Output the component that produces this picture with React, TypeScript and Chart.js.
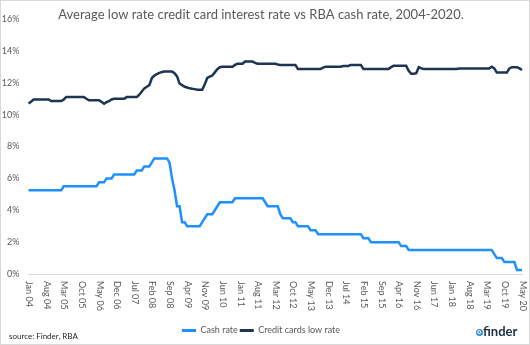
import React, { useEffect, useRef } from "react";
import { Chart, registerables } from "chart.js";

Chart.register(...registerables);

const FONT = 'Lato, "Open Sans", sans-serif';
const TITLE = "Average low rate credit card interest rate vs RBA cash rate, 2004-2020.";
const SOURCE = "source: Finder, RBA";
const LOGO = "finder";

const MONTHS = ["Jan", "Feb", "Mar", "Apr", "May", "Jun", "Jul", "Aug", "Sep", "Oct", "Nov", "Dec"];
const categories: string[] = [];
for (let y = 2004; y <= 2020; y++) {
  for (let m = 0; m < 12; m++) {
    if (y === 2020 && m > 4) break;
    categories.push(`${MONTHS[m]} ${String(y).slice(2)}`);
  }
}
const TICK_EVERY = 7;
const yTicks = [0, 2, 4, 6, 8, 10, 12, 14, 16];

const cashRate = [
  5.25, 5.25, 5.25, 5.25, 5.25, 5.25, 5.25, 5.25, 5.25, 5.25, 5.25, 5.25,
  5.25, 5.25, 5.5, 5.5, 5.5, 5.5, 5.5, 5.5, 5.5, 5.5, 5.5, 5.5,
  5.5, 5.5, 5.5, 5.5, 5.75, 5.75, 5.75, 6.0, 6.0, 6.0, 6.25, 6.25,
  6.25, 6.25, 6.25, 6.25, 6.25, 6.25, 6.25, 6.5, 6.5, 6.5, 6.75, 6.75,
  6.75, 7.0, 7.25, 7.25, 7.25, 7.25, 7.25, 7.25, 7.0, 6.0, 5.25, 4.25,
  4.25, 3.25, 3.25, 3.0, 3.0, 3.0, 3.0, 3.0, 3.0, 3.25, 3.5, 3.75,
  3.75, 3.75, 4.0, 4.25, 4.5, 4.5, 4.5, 4.5, 4.5, 4.5, 4.75, 4.75,
  4.75, 4.75, 4.75, 4.75, 4.75, 4.75, 4.75, 4.75, 4.75, 4.75, 4.5, 4.25,
  4.25, 4.25, 4.25, 4.25, 3.75, 3.5, 3.5, 3.5, 3.5, 3.25, 3.25, 3.0,
  3.0, 3.0, 3.0, 3.0, 2.75, 2.75, 2.75, 2.5, 2.5, 2.5, 2.5, 2.5,
  2.5, 2.5, 2.5, 2.5, 2.5, 2.5, 2.5, 2.5, 2.5, 2.5, 2.5, 2.5,
  2.5, 2.25, 2.25, 2.25, 2.0, 2.0, 2.0, 2.0, 2.0, 2.0, 2.0, 2.0,
  2.0, 2.0, 2.0, 2.0, 1.75, 1.75, 1.75, 1.5, 1.5, 1.5, 1.5, 1.5,
  1.5, 1.5, 1.5, 1.5, 1.5, 1.5, 1.5, 1.5, 1.5, 1.5, 1.5, 1.5,
  1.5, 1.5, 1.5, 1.5, 1.5, 1.5, 1.5, 1.5, 1.5, 1.5, 1.5, 1.5,
  1.5, 1.5, 1.5, 1.5, 1.5, 1.25, 1.0, 1.0, 1.0, 0.75, 0.75, 0.75,
  0.75, 0.75, 0.25, 0.25, 0.25,
];

const creditLowRate = [
  10.7, 10.8, 10.95, 10.95, 10.95, 10.95, 10.95, 10.95, 10.95, 10.85, 10.85, 10.85,
  10.85, 10.85, 10.95, 11.1, 11.1, 11.1, 11.1, 11.1, 11.1, 11.1, 11.1, 11.0,
  10.9, 10.9, 10.9, 10.9, 10.9, 10.8, 10.68, 10.78, 10.85, 10.95, 11.0, 11.0,
  11.0, 11.0, 11.0, 11.1, 11.1, 11.1, 11.1, 11.1, 11.25, 11.45, 11.65, 11.75,
  11.85, 12.3, 12.45, 12.55, 12.62, 12.67, 12.7, 12.7, 12.7, 12.7, 12.6, 12.4,
  11.95, 11.85, 11.75, 11.7, 11.65, 11.62, 11.6, 11.56, 11.56, 11.56, 11.9, 12.3,
  12.38, 12.45, 12.65, 12.85, 12.97, 13.0, 13.0, 13.0, 13.0, 13.0, 13.12, 13.19,
  13.19, 13.19, 13.33, 13.33, 13.33, 13.33, 13.25, 13.19, 13.19, 13.19, 13.19, 13.19,
  13.19, 13.19, 13.19, 13.15, 13.12, 13.12, 13.12, 13.12, 13.12, 13.12, 13.12, 12.87,
  12.87, 12.87, 12.87, 12.87, 12.87, 12.87, 12.87, 12.87, 12.87, 12.95, 13.0, 13.0,
  13.0, 13.0, 13.0, 13.0, 13.0, 13.05, 13.05, 13.05, 13.12, 13.12, 13.12, 13.12,
  13.12, 12.87, 12.87, 12.87, 12.87, 12.87, 12.87, 12.87, 12.87, 12.87, 12.87, 12.87,
  12.98, 13.06, 13.06, 13.06, 13.06, 13.06, 13.06, 12.75, 12.56, 12.56, 12.6, 12.98,
  12.9, 12.87, 12.87, 12.87, 12.87, 12.87, 12.87, 12.87, 12.87, 12.87, 12.87, 12.87,
  12.87, 12.87, 12.87, 12.9, 12.9, 12.9, 12.9, 12.9, 12.9, 12.9, 12.9, 12.9,
  12.9, 12.9, 12.9, 12.9, 13.0, 12.9, 12.64, 12.64, 12.64, 12.64, 12.64, 12.9,
  12.98, 12.98, 12.98, 12.9, 12.8,
];

const CASH_COLOR = "#1e90ff";
const CREDIT_COLOR = "#1c3553";
const TEXT_COLOR = "#595959";

const overlayPlugin = {
  id: "overlayText",
  afterDraw(chart: any) {
    const ctx = chart.ctx as CanvasRenderingContext2D;
    const xs = chart.scales.x;
    ctx.save();
    // x tick labels rotated clockwise
    ctx.fillStyle = TEXT_COLOR;
    ctx.font = `9px ${FONT}`;
    ctx.textAlign = "left";
    ctx.textBaseline = "middle";
    categories.forEach((lab, i) => {
      if (i % TICK_EVERY !== 0) return;
      const px = xs.getPixelForValue(i);
      ctx.save();
      ctx.translate(px + 0.5, xs.top + 7);
      ctx.rotate(Math.PI / 2);
      ctx.fillText(lab, 0, 0);
      ctx.restore();
    });
    // title
    ctx.font = `13px ${FONT}`;
    ctx.textAlign = "center";
    ctx.fillText(TITLE, 261, 15);
    // source
    ctx.font = `8px ${FONT}`;
    ctx.fillStyle = "#262626";
    ctx.textAlign = "left";
    ctx.fillText(SOURCE, 9, 336);
    // logo
    ctx.fillStyle = "#3b8fd9";
    ctx.beginPath();
    ctx.arc(479.5, 332.5, 3.5, 0, Math.PI * 2);
    ctx.fill();
    ctx.strokeStyle = "#ffffff";
    ctx.lineWidth = 1;
    ctx.beginPath();
    ctx.arc(479.2, 332.2, 1.5, 0, Math.PI * 2);
    ctx.stroke();
    ctx.fillStyle = "#1d2f45";
    ctx.font = `bold 13px ${FONT}`;
    ctx.textAlign = "left";
    ctx.fillText(LOGO, 483, 332);
    ctx.restore();
  },
};

export default function App() {
  const ref = useRef<HTMLCanvasElement | null>(null);
  useEffect(() => {
    if (!ref.current) return;
    const chart = new Chart(ref.current, {
      type: "line",
      data: {
        labels: categories,
        datasets: [
          {
            label: "Cash rate",
            data: cashRate,
            borderColor: CASH_COLOR,
            backgroundColor: CASH_COLOR,
            borderWidth: 2.5,
            pointRadius: 0,
            tension: 0,
          },
          {
            label: "Credit cards low rate",
            data: creditLowRate,
            borderColor: CREDIT_COLOR,
            backgroundColor: CREDIT_COLOR,
            borderWidth: 2.5,
            pointRadius: 0,
            tension: 0,
          },
        ],
      },
      options: {
        responsive: true,
        maintainAspectRatio: false,
        animation: false,
        layout: { padding: { top: 19, left: 0, right: 8, bottom: 0 } },
        scales: {
          x: {
            type: "category",
            grid: { display: false, drawTicks: false },
            border: { display: true, color: "#d9d9d9", width: 1 },
            ticks: { display: false },
            afterFit: (s: any) => {
              s.height = 50;
            },
          },
          y: {
            min: 0,
            max: 16,
            grid: { display: false, drawTicks: false },
            border: { display: false },
            afterBuildTicks: (s: any) => {
              s.ticks = yTicks.map((v) => ({ value: v }));
            },
            ticks: {
              color: TEXT_COLOR,
              font: { family: FONT, size: 9 },
              padding: 9,
              callback: (v: any) => `${v}%`,
            },
            afterFit: (s: any) => {
              s.width = 28.5;
            },
          },
        },
        plugins: {
          title: { display: false },
          tooltip: { enabled: false },
          legend: {
            display: true,
            position: "bottom",
            labels: {
              color: TEXT_COLOR,
              font: { family: FONT, size: 9 },
              boxWidth: 14,
              boxHeight: 3,
              padding: 2,
              generateLabels: (c: any) =>
                Chart.defaults.plugins.legend.labels
                  .generateLabels(c)
                  .map((l: any) => ({ ...l, lineWidth: 0 })),
            },
          },
        },
      },
      plugins: [overlayPlugin],
    });
    return () => chart.destroy();
  }, []);
  return (
    <div style={{ position: "fixed", left: 0, top: 0, width: 530, height: 345, background: "#fff" }}>
      <canvas ref={ref} style={{ position: "absolute", left: 0, top: 0, width: 530, height: 345 }} />
      <div
        style={{
          position: "absolute",
          left: 0,
          top: 0,
          width: 530,
          height: 345,
          boxSizing: "border-box",
          border: "1px solid #d9d9d9",
          pointerEvents: "none",
        }}
      />
    </div>
  );
}
